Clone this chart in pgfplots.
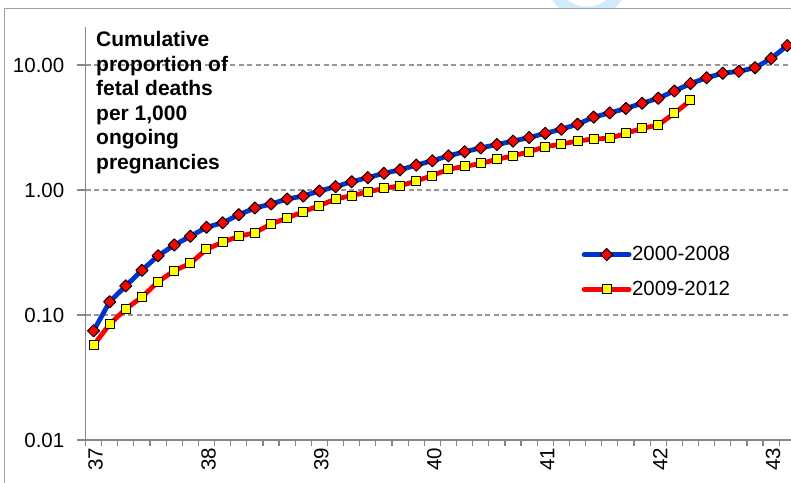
\documentclass[border=0pt]{standalone}
\usepackage{fontspec}
\setmainfont{Liberation Sans}
\usepackage{pgfplots}
\pgfplotsset{compat=1.18}
\definecolor{serblue}{RGB}{0,51,204}
\definecolor{serred}{RGB}{255,0,0}
\definecolor{mkyellow}{RGB}{255,255,0}
\definecolor{wmblue}{RGB}{208,236,251}
\definecolor{axgray}{RGB}{134,134,134}
\definecolor{gridgray}{RGB}{150,150,150}
\definecolor{bordergray}{RGB}{160,160,160}

\pgfplotstableread{
x y
37.000000 0.0748
37.142857 0.1276
37.285714 0.171
37.428571 0.228
37.571429 0.298
37.714286 0.363
37.857143 0.426
38.000000 0.503
38.142857 0.547
38.285714 0.634
38.428571 0.718
38.571429 0.773
38.714286 0.847
38.857143 0.895
39.000000 0.982
39.142857 1.063
39.285714 1.165
39.428571 1.255
39.571429 1.36
39.714286 1.45
39.857143 1.58
40.000000 1.715
40.142857 1.875
40.285714 2.025
40.428571 2.17
40.571429 2.31
40.714286 2.46
40.857143 2.63
41.000000 2.84
41.142857 3.06
41.285714 3.36
41.428571 3.83
41.571429 4.14
41.714286 4.49
41.857143 4.94
42.000000 5.42
42.142857 6.19
42.285714 7.1
42.428571 7.91
42.571429 8.59
42.714286 8.9
42.857143 9.51
43.000000 11.27
43.142857 14.3
}\earlier

\pgfplotstableread{
x y
37.000000 0.0573
37.142857 0.0843
37.285714 0.112
37.428571 0.139
37.571429 0.1847
37.714286 0.226
37.857143 0.259
38.000000 0.336
38.142857 0.382
38.285714 0.426
38.428571 0.455
38.571429 0.535
38.714286 0.597
38.857143 0.671
39.000000 0.750
39.142857 0.847
39.285714 0.901
39.428571 0.964
39.571429 1.031
39.714286 1.08
39.857143 1.18
40.000000 1.305
40.142857 1.465
40.285714 1.545
40.428571 1.63
40.571429 1.76
40.714286 1.875
40.857143 2.025
41.000000 2.22
41.142857 2.33
41.285714 2.466
41.428571 2.56
41.571429 2.59
41.714286 2.84
41.857143 3.11
42.000000 3.31
42.142857 4.11
42.285714 5.20
}\later

\begin{document}
\begin{tikzpicture}[x=1bp,y=1bp]
% watermark fragment above chart border
\begin{scope}
\clip (0,474) rectangle (791,483);
\fill[wmblue, even odd rule] (587,507.6) circle[radius=42.8] (587,507.6) circle[radius=31.3];
\end{scope}
% chart area border
\draw[bordergray, line width=1bp] (4,-20) -- (4,474) -- (820,474);

\begin{axis}[
  at={(85.5bp,43bp)}, anchor=south west,
  scale only axis, width=705.5bp, height=413bp,
  ymode=log, log basis y=10,
  xmin=36.928571, xmax=43.176, ymin=0.01, ymax=20.14,
  clip=false,
  axis x line*=bottom, axis y line*=left,
  axis line style={-, draw=axgray, line width=1.4bp},
  xtick={37,38,39,40,41,42,43},
  xticklabels={37,38,39,40,41,42,43},
  minor xtick={36.928571,37.071429,...,43.2},
  ytick={0.01,0.1,1,10},
  yticklabels={0.01,0.10,1.00,10.00},
  yminorticks=false,
  tick align=outside,
  major tick length=8bp, minor tick length=6bp,
  tick style={draw=axgray, line width=1.2bp},
  major x tick style={draw=none},
  ymajorgrids,
  major grid style={draw=gridgray, line width=1.2bp, dash pattern=on 5bp off 3.5bp},
  /pgf/number format/assume math mode=true,
  ticklabel style={font=\fontsize{20.5bp}{24bp}\selectfont},
  xticklabel style={rotate=90, anchor=east, inner sep=0pt, yshift=-2bp},
  yticklabel style={anchor=east, inner sep=0pt, xshift=-13bp},
  legend style={at={(0.7031,0.4698)}, anchor=north west, draw=none, fill=none,
    font=\fontsize{20.5bp}{24bp}\selectfont, row sep=18bp, column sep=0pt,
    inner sep=0pt, nodes={inner sep=0.5bp}},
  legend cell align=left,
  legend image code/.code={\draw[mark repeat=2,mark phase=2,#1,line cap=round] plot coordinates {(0bp,0bp) (22.5bp,0bp) (45bp,0bp)};},
]
\addplot[serblue, line width=4.8bp, line join=round, mark=square*, mark size=4.3bp,
  mark options={rotate=45, fill=serred, draw=black, line width=1bp, solid}]
  table[x=x,y=y] {\earlier};
\addlegendentry{2000-2008}
\addplot[serred, line width=4.8bp, line join=round, mark=square*, mark size=4.5bp,
  mark options={fill=mkyellow, draw=black, line width=1bp, solid}]
  table[x=x,y=y] {\later};
\addlegendentry{2009-2012}
\end{axis}

\node[anchor=north west, inner sep=0pt, align=left,
  font=\bfseries\fontsize{21bp}{24.5bp}\selectfont] at (96,451.5)
  {Cumulative\\proportion of\\fetal deaths\\per 1,000\\ongoing\\pregnancies};

\pgfresetboundingbox
\useasboundingbox (0,0) rectangle (791,483);
\end{tikzpicture}
\end{document}
